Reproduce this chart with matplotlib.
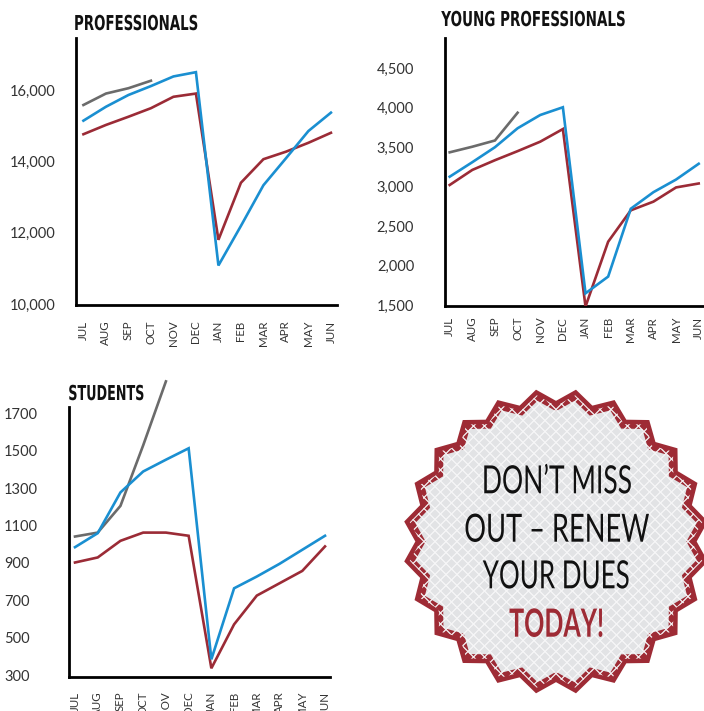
import numpy as np
import matplotlib
matplotlib.use("Agg")
import matplotlib.pyplot as plt
from matplotlib.patheffects import AbstractPathEffect
from matplotlib.transforms import Affine2D
from matplotlib.patches import Polygon
from matplotlib.collections import LineCollection
from matplotlib.ticker import FixedLocator, StrMethodFormatter

# ---------------- data ----------------
months = ['JUL', 'AUG', 'SEP', 'OCT', 'NOV', 'DEC', 'JAN', 'FEB', 'MAR', 'APR', 'MAY', 'JUN']

prof_blue = [15140, 15530, 15860, 16110, 16380, 16500, 11080, 12190, 13330, 14085, 14850, 15365]
prof_red = [14760, 15020, 15250, 15490, 15810, 15900, 11800, 13400, 14060, 14270, 14520, 14800]
prof_gray = [15580, 15900, 16050, 16260]
prof_ticks = [10000, 12000, 14000, 16000]

yp_blue = [3126, 3310, 3500, 3740, 3908, 4006, 1648, 1860, 2720, 2930, 3090, 3290]
yp_red = [3021, 3212, 3335, 3450, 3570, 3730, 1480, 2302, 2700, 2810, 2990, 3040]
yp_gray = [3435, 3506, 3585, 3937]
yp_ticks = [1500, 2000, 2500, 3000, 3500, 4000, 4500]

stu_blue = [984, 1059, 1277, 1389, 1452, 1513, 384, 764, 827, 895, 970, 1045]
stu_red = [902, 929, 1018, 1062, 1062, 1045, 336, 571, 725, 791, 857, 988]
stu_gray = [1041, 1062, 1205, 1529, 1871]
stu_ticks = [300, 500, 700, 900, 1100, 1300, 1500, 1700]

badge_lines = ['DON\u2019T MISS', 'OUT \u2013 RENEW', 'YOUR DUES']
badge_cta = 'TODAY!'

# ---------------- style ----------------
BLUE = '#1a8fd1'
RED = '#9b2b36'
GRAY = '#6b6b6b'
BADGE_RED = '#9e2b35'
BADGE_FILL = '#e2e3e5'
TXT = '#333333'

plt.rcParams['font.family'] = ['Lato', 'DejaVu Sans']

W, H = 704, 711
fig = plt.figure(figsize=(W / 100, H / 100), dpi=100)


class Squeeze(AbstractPathEffect):
    """Condense glyph outlines horizontally / stretch vertically (text stays a Text artist)."""

    def __init__(self, sx=1.0, sy=1.0, anchor='center'):
        super().__init__()
        self.sx = sx
        self.sy = sy
        self.anchor = anchor

    def draw_path(self, renderer, gc, tpath, affine, rgbFace=None):
        cx = 0.0
        if self.anchor == 'center':
            ext = tpath.get_extents()
            cx = (ext.x0 + ext.x1) / 2
        pre = Affine2D().translate(-cx, 0).scale(self.sx, self.sy).translate(cx, 0)
        renderer.draw_path(gc, tpath, pre + affine, rgbFace)


def rect(l, t, r, b):
    return [l / W, 1 - b / H, (r - l) / W, (b - t) / H]


# ---------------- badge (background layer) ----------------
bax = fig.add_axes([0, 0, 1, 1])
bax.set_xlim(0, W)
bax.set_ylim(H, 0)
bax.axis('off')

cx, cy = 556, 541.5
n = 24
k = np.arange(2 * n)
theta = np.pi / 2 + k * np.pi / n
stroke_px = 9
r_out, r_in = 152 - stroke_px / 2, 140 - stroke_px / 2
rad = np.where(k % 2 == 0, r_in, r_out)
star = np.column_stack([cx + rad * np.cos(theta), cy - rad * np.sin(theta)])
fill = Polygon(star, closed=True, facecolor=BADGE_FILL, edgecolor='none', linewidth=0)
bax.add_patch(fill)
# diagonal white lattice inside the badge
step = 11.0
offs = np.arange(-330, 330, step)
segs = []
for d in offs:
    segs.append([(cx + d - 170, cy - 170), (cx + d + 170, cy + 170)])
    segs.append([(cx + d - 170, cy + 170), (cx + d + 170, cy - 170)])
lattice = LineCollection(segs, colors='#f7f7f8', linewidths=0.9)
bax.add_collection(lattice)
lattice.set_clip_path(fill)
bax.add_patch(Polygon(star, closed=True, facecolor='none', edgecolor=BADGE_RED,
                      linewidth=stroke_px * 0.72, joinstyle='miter'))

badge_texts = []
baselines = [493.3, 541.7, 588.3]
widths = [150, 185, 147]
for s, yb, wd in zip(badge_lines, baselines, widths):
    t = bax.text(556.5, yb, s, ha='center', va='baseline', fontsize=28,
                 fontweight='normal', color='#111111')
    badge_texts.append((t, wd, 1.0, 'center'))
t = bax.text(557, 636.7, badge_cta, ha='center', va='baseline', fontsize=28,
             fontweight='bold', color=BADGE_RED)
badge_texts.append((t, 95, 1.0, 'center'))


# ---------------- charts ----------------
def chart(r, xlim, ylim, blue, red, gray, ticks, fmt, ypad, xpad, left_labels=False):
    ax = fig.add_axes(rect(*r))
    x = np.arange(len(months))
    ax.plot(x[:len(gray)], gray, color=GRAY, lw=1.9, solid_joinstyle='miter', clip_on=False, zorder=3)
    ax.plot(x, red, color=RED, lw=1.9, solid_joinstyle='miter', zorder=4)
    ax.plot(x, blue, color=BLUE, lw=1.9, solid_joinstyle='miter', zorder=5)
    ax.set_xlim(*xlim)
    ax.set_ylim(*ylim)
    ax.set_xticks(x)
    ax.set_xticklabels(months, rotation=90, fontsize=8.3, color=TXT)
    ax.yaxis.set_major_locator(FixedLocator(ticks))
    ax.yaxis.set_major_formatter(StrMethodFormatter(fmt))
    ax.tick_params(axis='x', length=0, pad=xpad)
    ax.tick_params(axis='y', length=0, pad=ypad, labelsize=10.5, labelcolor=TXT)
    if left_labels:
        for lbl in ax.get_yticklabels():
            lbl.set_ha('left')
    for s in ['top', 'right']:
        ax.spines[s].set_visible(False)
    for s in ['left', 'bottom']:
        ax.spines[s].set_linewidth(2.0)
        ax.spines[s].set_color('black')
    ax.set_facecolor('none')
    return ax


ax1 = chart((76, 38, 337, 305), (-0.33, 11.27), (9972, 17458),
            prof_blue, prof_red, prof_gray, prof_ticks, '{x:,.0f}', 15, 11.3)
ax2 = chart((444.7, 38, 705.5, 305.7), (-0.22, 11.30), (1491, 4884),
            yp_blue, yp_red, yp_gray, yp_ticks, '{x:,.0f}', 22, 8)
ax3 = chart((69, 407, 330, 676.7), (-0.264, 11.22), (291, 1734),
            stu_blue, stu_red, stu_gray, stu_ticks, '{x:.0f}', 46.8, 10.8, left_labels=True)

# titles: set at a smaller nominal size, then stretched vertically to the
# reference cap height and condensed to the reference width
title_size = 10.5
title_sy = 14.8 / title_size
titles = []
for s, xl, yb, wd in [('PROFESSIONALS', 74, 30, 125),
                      ('YOUNG PROFESSIONALS', 441.3, 26, 185.7),
                      ('STUDENTS', 68.3, 400, 76.7)]:
    t = bax.text(xl, yb, s, ha='left', va='baseline', fontsize=title_size,
                 fontweight='bold', family=['DejaVu Sans'], color='#111111')
    titles.append((t, wd, title_sy, 'left'))

# fit condensed widths
fig.canvas.draw()
renderer = fig.canvas.get_renderer()
for t, wd, sy, anchor in badge_texts + titles:
    w = t.get_window_extent(renderer).width
    t.set_path_effects([Squeeze(wd / w, sy, anchor)])

fig.savefig('out.png', dpi=100)
